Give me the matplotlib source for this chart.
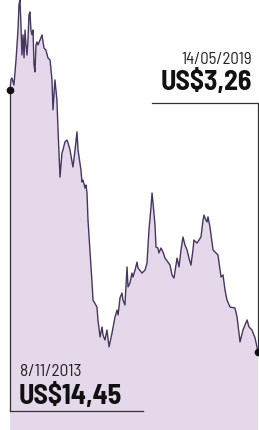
import matplotlib
matplotlib.use('Agg')
from matplotlib import pyplot as plt
import pandas as pd

plt.rcParams['font.family'] = ['Barlow Semi Condensed', 'Barlow Condensed',
                               'Asap Condensed', 'DejaVu Sans']

# Share price, US$
dates = [
    '2013-11-08', '2013-11-16', '2013-11-24', '2013-12-10', '2013-12-27',
    '2014-01-12', '2014-01-20', '2014-01-28', '2014-02-05', '2014-02-13',
    '2014-02-22', '2014-03-02', '2014-03-10', '2014-03-18', '2014-03-26',
    '2014-04-03', '2014-04-11', '2014-04-19', '2014-04-27', '2014-05-06',
    '2014-05-14', '2014-05-22', '2014-05-30', '2014-06-07', '2014-06-15',
    '2014-06-23', '2014-07-10', '2014-07-26', '2014-08-11', '2014-08-27',
    '2014-09-12', '2014-09-29', '2014-10-15', '2014-10-23', '2014-11-08',
    '2014-11-24', '2014-12-03', '2014-12-19', '2015-01-04', '2015-01-12',
    '2015-01-28', '2015-02-14', '2015-02-22', '2015-03-10', '2015-04-03',
    '2015-04-20', '2015-05-06', '2015-05-14', '2015-06-07', '2015-06-15',
    '2015-06-24', '2015-07-10', '2015-07-18', '2015-07-26', '2015-08-03',
    '2015-08-19', '2015-09-05', '2015-09-13', '2015-10-15', '2015-10-23',
    '2015-11-09', '2015-11-25', '2015-12-03', '2015-12-19', '2016-01-04',
    '2016-01-21', '2016-02-14', '2016-03-09', '2016-03-26', '2016-04-03',
    '2016-04-19', '2016-05-05', '2016-05-13', '2016-05-29', '2016-06-15',
    '2016-06-23', '2016-07-09', '2016-07-25', '2016-08-02', '2016-08-19',
    '2016-09-04', '2016-09-12', '2016-10-14', '2016-11-08', '2016-11-24',
    '2016-12-10', '2016-12-26', '2017-01-04', '2017-01-12', '2017-01-28',
    '2017-02-05', '2017-02-21', '2017-03-01', '2017-03-18', '2017-04-03',
    '2017-04-19', '2017-05-13', '2017-05-30', '2017-06-15', '2017-07-01',
    '2017-07-26', '2017-08-11', '2017-08-27', '2017-09-12', '2017-09-28',
    '2017-10-15', '2017-10-31', '2017-11-16', '2017-12-02', '2017-12-10',
    '2018-01-04', '2018-01-20', '2018-02-05', '2018-02-22', '2018-03-02',
    '2018-03-10', '2018-03-26', '2018-04-03', '2018-04-19', '2018-05-14',
    '2018-05-30', '2018-06-23', '2018-07-18', '2018-08-03', '2018-08-19',
    '2018-09-04', '2018-09-29', '2018-11-08', '2018-11-25', '2018-12-19',
    '2019-01-12', '2019-02-14', '2019-03-02', '2019-03-26', '2019-04-20',
    '2019-05-14',
]
prices = [
    14.45, 14.88, 14.96, 14.66, 15.73,
    17.01, 18.08, 18.29, 17.22, 15.94,
    16.80, 15.82, 17.01, 16.37, 15.94,
    16.58, 17.65, 17.78, 17.01, 16.80,
    17.01, 15.52, 15.22, 16.37, 16.50,
    16.37, 16.58, 16.80, 16.24, 16.15,
    15.82, 15.73, 14.88, 13.60, 14.88,
    14.02, 12.74, 10.73, 11.76, 11.89,
    12.23, 12.31, 12.19, 11.89, 11.16,
    11.89, 12.66, 11.89, 11.03, 10.52,
    10.60, 10.26, 10.39, 10.05, 8.90,
    7.62, 6.21, 5.48, 5.18, 4.63,
    3.90, 4.33, 3.99, 3.77, 4.20,
    3.48, 4.07, 4.75, 5.05, 4.84,
    5.57, 5.78, 5.48, 5.27, 6.89,
    6.04, 6.21, 6.63, 6.46, 6.76,
    7.10, 6.85, 6.63, 6.76, 7.06,
    8.47, 9.41, 10.05, 9.62, 8.68,
    7.74, 7.70, 7.49, 7.70, 7.53,
    7.27, 7.10, 6.97, 6.55, 6.42,
    7.27, 6.89, 7.62, 8.17, 7.83,
    7.62, 7.27, 6.97, 7.62, 8.04,
    7.91, 8.04, 8.17, 8.90, 9.11,
    8.98, 8.81, 9.03, 8.60, 7.62,
    7.53, 7.40, 6.46, 6.55, 5.91,
    5.48, 5.18, 5.14, 4.75, 3.69,
    4.20, 4.63, 4.33, 4.20, 3.86,
    3.26,
]

start_label = '8/11/2013'
start_value = 'US$14,45'
end_label = '14/05/2019'
end_value = 'US$3,26'

fill_color = '#e6d8eb'
line_color = '#45365f'
rule_color = '#333333'

days = pd.to_datetime(dates)
first, last = days[0], days[-1]

fig = plt.figure(figsize=(2.59, 4.30), dpi=100)
ax = fig.add_axes([0, 0, 1, 1])
ax.set_axis_off()

x_left = first - pd.Timedelta(days=81)
x_right = last + pd.Timedelta(days=8)
y_low, y_high = -0.07, 18.29
ax.set_xlim(x_left, x_right)
ax.set_ylim(y_low, y_high)

# Area + price line
ax.fill_between(days, prices, y_low, color=fill_color, linewidth=0)
ax.plot(days, prices, color=line_color, linewidth=1.0)

# Start marker and its callout rule
ax.plot([first, first], [prices[0], 0.75], color=rule_color, linewidth=0.9)
ax.plot([first, first + pd.Timedelta(days=1080)], [0.75, 0.75],
        color=rule_color, linewidth=0.9)
ax.plot(first, prices[0], 'o', color='#111111', markersize=4.5, clip_on=False)

# End marker and its callout rule
ax.plot([last, last], [prices[-1], 13.9], color=rule_color, linewidth=0.9)
ax.plot([last - pd.Timedelta(days=860), last + pd.Timedelta(days=8)],
        [13.9, 13.9], color=rule_color, linewidth=0.9)
ax.plot(last, prices[-1], 'o', color='#111111', markersize=4.5, clip_on=False)

# Labels
fig.text(20 / 259, 1 - 371 / 430, start_label, fontsize=12.5, color='#222222',
         ha='left', va='center')
fig.text(19 / 259, 1 - 396 / 430, start_value, fontsize=20, fontweight='bold',
         color='#111111', ha='left', va='center')
fig.text(252 / 259, 1 - 59 / 430, end_label, fontsize=12, color='#222222',
         ha='right', va='center')
fig.text(252 / 259, 1 - 82 / 430, end_value, fontsize=20, fontweight='bold',
         color='#111111', ha='right', va='center')

fig.savefig('out.png', dpi=100, facecolor='white')
